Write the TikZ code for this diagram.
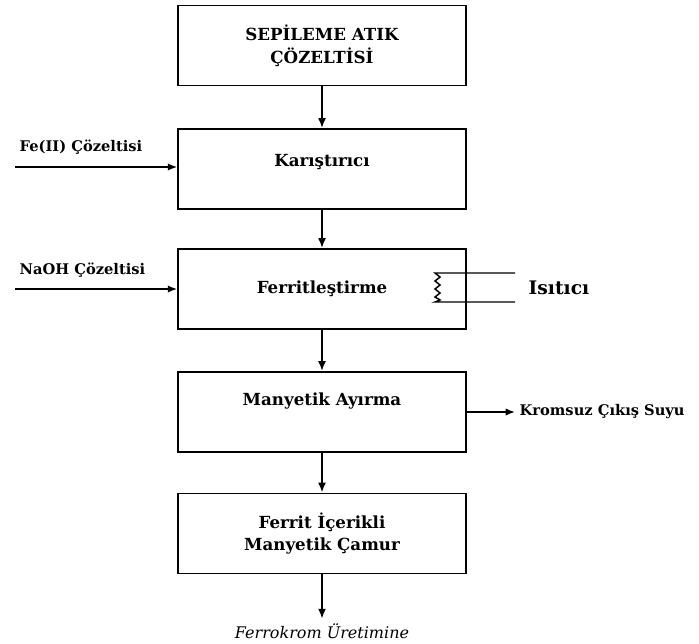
\documentclass[tikz,border=0pt]{standalone}
\usepackage{fontspec}
\setmainfont{DejaVu Serif}
\usetikzlibrary{positioning,arrows.meta}

\begin{document}
\begin{tikzpicture}[
    x=0.75pt, y=-0.75pt,
    unit/.style={draw, line width=1.3pt, minimum width=216pt, minimum height=60pt, align=center, font=\fontsize{12.5}{17}\selectfont\bfseries},
    feed/.style={font=\fontsize{11}{13}\selectfont\bfseries, anchor=west},
    flow/.style={-{Latex[length=7.5pt,width=6pt]}, line width=2pt},
    side/.style={-{Latex[length=7pt,width=5.5pt]}, line width=1.1pt}
]
\useasboundingbox (0,0) rectangle (699,643);

% Main process column
\node[unit] (waste) at (322,45.5) {SEPİLEME ATIK\\ÇÖZELTİSİ};
\node[unit, label={[yshift=5pt, font=\fontsize{12.5}{15}\selectfont\bfseries]center:Karıştırıcı}] (mixer) at (322,169) {};
\node[unit] (ferrit) at (322,289) {Ferritleştirme};
\node[unit, label={[yshift=8pt, font=\fontsize{12.5}{15}\selectfont\bfseries]center:Manyetik Ayırma}] (separ) at (322,412) {};
\node[unit] (sludge) at (322,533.5) {Ferrit İçerikli\\Manyetik Çamur};

\draw[flow] (waste) -- (mixer);
\draw[flow] (mixer) -- (ferrit);
\draw[flow] (ferrit) -- (separ);
\draw[flow] (separ) -- (sludge);

% Fe(II) feed
\node[feed] (fe) at (15,147) {Fe(II) Çözeltisi};
\coordinate (fein) at (15,167);
\draw[side] (fein) -- (fein -| mixer.west);

% NaOH feed
\node[feed] (naoh) at (15,270) {NaOH Çözeltisi};
\coordinate (naohin) at (15,289);
\draw[side] (naohin) -- (ferrit.west);

% Heater
\coordinate (hta) at (515,273);
\coordinate (htb) at (515,302);
\draw[line width=1.1pt] (hta) -- (435,273) -- (440,277) -- (435,281) -- (440,285) -- (435,289)
    -- (440,293) -- (435,297) -- (440,300) -- (435,302) -- (htb);
\node[font=\fontsize{14}{16}\selectfont\bfseries, anchor=west] (heat) at (524,288) {Isıtıcı};

% Clean water out
\node[feed] (water) at (515,412) {Kromsuz Çıkış Suyu};
\draw[side] (separ.east) -- (water.west);

% Product out
\node[font=\fontsize{12}{14}\selectfont\itshape] (prod) at (322,631) {Ferrokrom Üretimine};
\draw[flow] (sludge) -- (prod);

\end{tikzpicture}
\end{document}
